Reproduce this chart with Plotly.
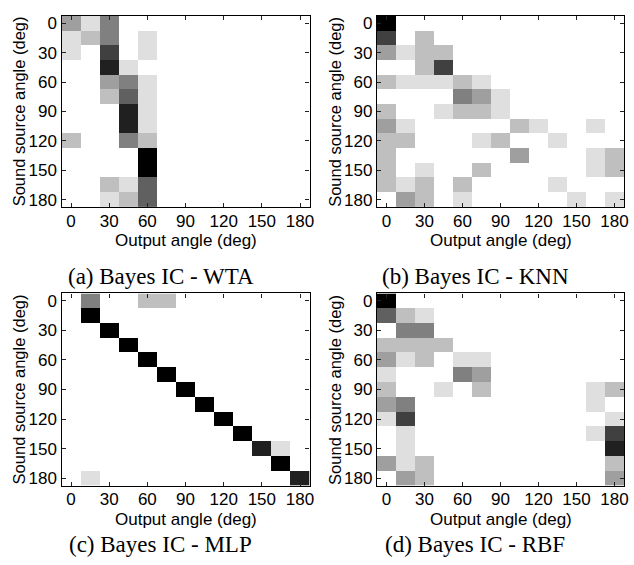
import plotly.graph_objects as go

# Angles (deg) for sound source (rows) and output (columns)
angles = [0, 15, 30, 45, 60, 75, 90, 105, 120, 135, 150, 165, 180]
tick_vals = [0, 30, 60, 90, 120, 150, 180]
tick_text = ["0", "30", "60", "90", "120", "150", "180"]

# Grey level per cell (0 = white, 8 = black); rows = source angle, cols = output angle
wta = [
    [3, 1, 4, 0, 0, 0, 0, 0, 0, 0, 0, 0, 0],
    [1, 2, 4, 0, 1, 0, 0, 0, 0, 0, 0, 0, 0],
    [1, 0, 6, 0, 1, 0, 0, 0, 0, 0, 0, 0, 0],
    [0, 0, 7, 1, 0, 0, 0, 0, 0, 0, 0, 0, 0],
    [0, 0, 3, 4, 1, 0, 0, 0, 0, 0, 0, 0, 0],
    [0, 0, 2, 5, 1, 0, 0, 0, 0, 0, 0, 0, 0],
    [0, 0, 0, 7, 1, 0, 0, 0, 0, 0, 0, 0, 0],
    [0, 0, 0, 7, 1, 0, 0, 0, 0, 0, 0, 0, 0],
    [2, 0, 0, 4, 2, 0, 0, 0, 0, 0, 0, 0, 0],
    [0, 0, 0, 0, 8, 0, 0, 0, 0, 0, 0, 0, 0],
    [0, 0, 0, 0, 8, 0, 0, 0, 0, 0, 0, 0, 0],
    [0, 0, 2, 1, 5, 0, 0, 0, 0, 0, 0, 0, 0],
    [0, 0, 1, 2, 5, 0, 0, 0, 0, 0, 0, 0, 0],
]

knn = [
    [8, 0, 0, 0, 0, 0, 0, 0, 0, 0, 0, 0, 0],
    [6, 0, 2, 0, 0, 0, 0, 0, 0, 0, 0, 0, 0],
    [3, 1, 2, 2, 0, 0, 0, 0, 0, 0, 0, 0, 0],
    [0, 0, 2, 6, 0, 0, 0, 0, 0, 0, 0, 0, 0],
    [2, 1, 1, 1, 2, 1, 0, 0, 0, 0, 0, 0, 0],
    [0, 0, 0, 0, 4, 3, 1, 0, 0, 0, 0, 0, 0],
    [2, 0, 0, 1, 2, 2, 1, 0, 0, 0, 0, 0, 0],
    [3, 1, 0, 0, 0, 0, 0, 2, 1, 0, 0, 1, 0],
    [2, 2, 0, 0, 0, 1, 2, 0, 0, 1, 0, 0, 0],
    [2, 0, 0, 0, 0, 0, 0, 3, 0, 0, 0, 1, 2],
    [2, 0, 1, 0, 0, 2, 0, 0, 0, 0, 0, 1, 2],
    [2, 1, 2, 0, 2, 0, 0, 0, 0, 1, 0, 0, 0],
    [0, 3, 2, 0, 1, 0, 0, 0, 0, 0, 1, 0, 1],
]

mlp = [
    [0, 4, 0, 0, 2, 2, 0, 0, 0, 0, 0, 0, 0],
    [0, 8, 0, 0, 0, 0, 0, 0, 0, 0, 0, 0, 0],
    [0, 0, 8, 0, 0, 0, 0, 0, 0, 0, 0, 0, 0],
    [0, 0, 0, 8, 0, 0, 0, 0, 0, 0, 0, 0, 0],
    [0, 0, 0, 0, 8, 0, 0, 0, 0, 0, 0, 0, 0],
    [0, 0, 0, 0, 0, 8, 0, 0, 0, 0, 0, 0, 0],
    [0, 0, 0, 0, 0, 0, 8, 0, 0, 0, 0, 0, 0],
    [0, 0, 0, 0, 0, 0, 0, 8, 0, 0, 0, 0, 0],
    [0, 0, 0, 0, 0, 0, 0, 0, 8, 0, 0, 0, 0],
    [0, 0, 0, 0, 0, 0, 0, 0, 0, 8, 0, 0, 0],
    [0, 0, 0, 0, 0, 0, 0, 0, 0, 0, 7, 1, 0],
    [0, 0, 0, 0, 0, 0, 0, 0, 0, 0, 0, 8, 0],
    [0, 1, 0, 0, 0, 0, 0, 0, 0, 0, 0, 0, 7],
]

rbf = [
    [8, 0, 0, 0, 0, 0, 0, 0, 0, 0, 0, 0, 0],
    [5, 2, 1, 0, 0, 0, 0, 0, 0, 0, 0, 0, 0],
    [0, 4, 4, 0, 0, 0, 0, 0, 0, 0, 0, 0, 0],
    [2, 2, 2, 2, 0, 0, 0, 0, 0, 0, 0, 0, 0],
    [3, 1, 2, 0, 1, 1, 0, 0, 0, 0, 0, 0, 0],
    [1, 0, 0, 0, 4, 3, 0, 0, 0, 0, 0, 0, 0],
    [2, 0, 0, 1, 0, 2, 0, 0, 0, 0, 0, 1, 2],
    [3, 4, 0, 0, 0, 0, 0, 0, 0, 0, 0, 1, 0],
    [1, 6, 0, 0, 0, 0, 0, 0, 0, 0, 0, 0, 1],
    [0, 1, 0, 0, 0, 0, 0, 0, 0, 0, 0, 1, 6],
    [0, 1, 0, 0, 0, 0, 0, 0, 0, 0, 0, 0, 7],
    [3, 1, 2, 0, 0, 0, 0, 0, 0, 0, 0, 0, 2],
    [0, 3, 2, 0, 0, 0, 0, 0, 0, 0, 0, 0, 3],
]

captions = ["(a) Bayes IC - WTA", "(b) Bayes IC - KNN",
            "(c) Bayes IC - MLP", "(d) Bayes IC - RBF"]
x_title = "Output angle (deg)"
y_title = "Sound source angle (deg)"

W, H = 634, 565
# panel boxes in pixels: (left, right, top, bottom)
boxes = [(62, 312, 14, 207), (380, 629, 14, 207),
         (62, 312, 294, 488), (380, 629, 294, 488)]
caption_pos = [(162, 277), (479, 277), (162, 547), (479, 547)]

sans = "Liberation Sans, Arial, sans-serif"
serif = "Liberation Serif, Times New Roman, serif"

fig = go.Figure()
layout = {}
annotations = []
for i, (z, (l, r, t, b)) in enumerate(zip([wta, knn, mlp, rbf], boxes)):
    n = "" if i == 0 else str(i + 1)
    fig.add_trace(go.Heatmap(
        z=z, x=angles, y=angles, xaxis="x" + n, yaxis="y" + n,
        colorscale=[[0, "#ffffff"], [1, "#000000"]], zmin=0, zmax=8,
        showscale=False, hoverinfo="skip", xgap=0, ygap=0))
    common = dict(showgrid=False, zeroline=False, showline=True, linecolor="black",
                  linewidth=1.3, mirror="ticks", ticks="inside", ticklen=4,
                  tickwidth=1, tickcolor="#222", tickvals=tick_vals, ticktext=tick_text,
                  tickfont=dict(family=sans, size=17, color="black"))
    layout["xaxis" + n] = dict(common, domain=[l / W, r / W], range=[-7.5, 187.5],
                               anchor="y" + n, ticklabelstandoff=-2)
    layout["yaxis" + n] = dict(common, domain=[1 - b / H, 1 - t / H], range=[187.5, -7.5],
                               anchor="x" + n)
    annotations.append(dict(text=x_title, x=(l + r) / 2 / W, y=1 - (b + 34) / H,
                            xref="paper", yref="paper", showarrow=False,
                            xanchor="center", yanchor="middle",
                            font=dict(family=sans, size=17, color="black")))
    annotations.append(dict(text=y_title, x=(l - 43) / W, y=1 - (t + b) / 2 / H,
                            xref="paper", yref="paper", showarrow=False, textangle=-90,
                            xanchor="center", yanchor="middle",
                            font=dict(family=sans, size=16.5, color="black")))
    cx, cy = caption_pos[i]
    annotations.append(dict(text=captions[i], x=cx / W, y=1 - cy / H,
                            xref="paper", yref="paper", showarrow=False,
                            xanchor="center", yanchor="middle",
                            font=dict(family=serif, size=23, color="black")))

fig.update_layout(width=W, height=H, margin=dict(l=0, r=0, t=0, b=0),
                  paper_bgcolor="white", plot_bgcolor="white",
                  annotations=annotations, **layout)
fig.write_html("out.html", config={"displayModeBar": False},
               post_script="document.body.style.margin='0';"
                           "document.body.style.overflow='hidden';")
